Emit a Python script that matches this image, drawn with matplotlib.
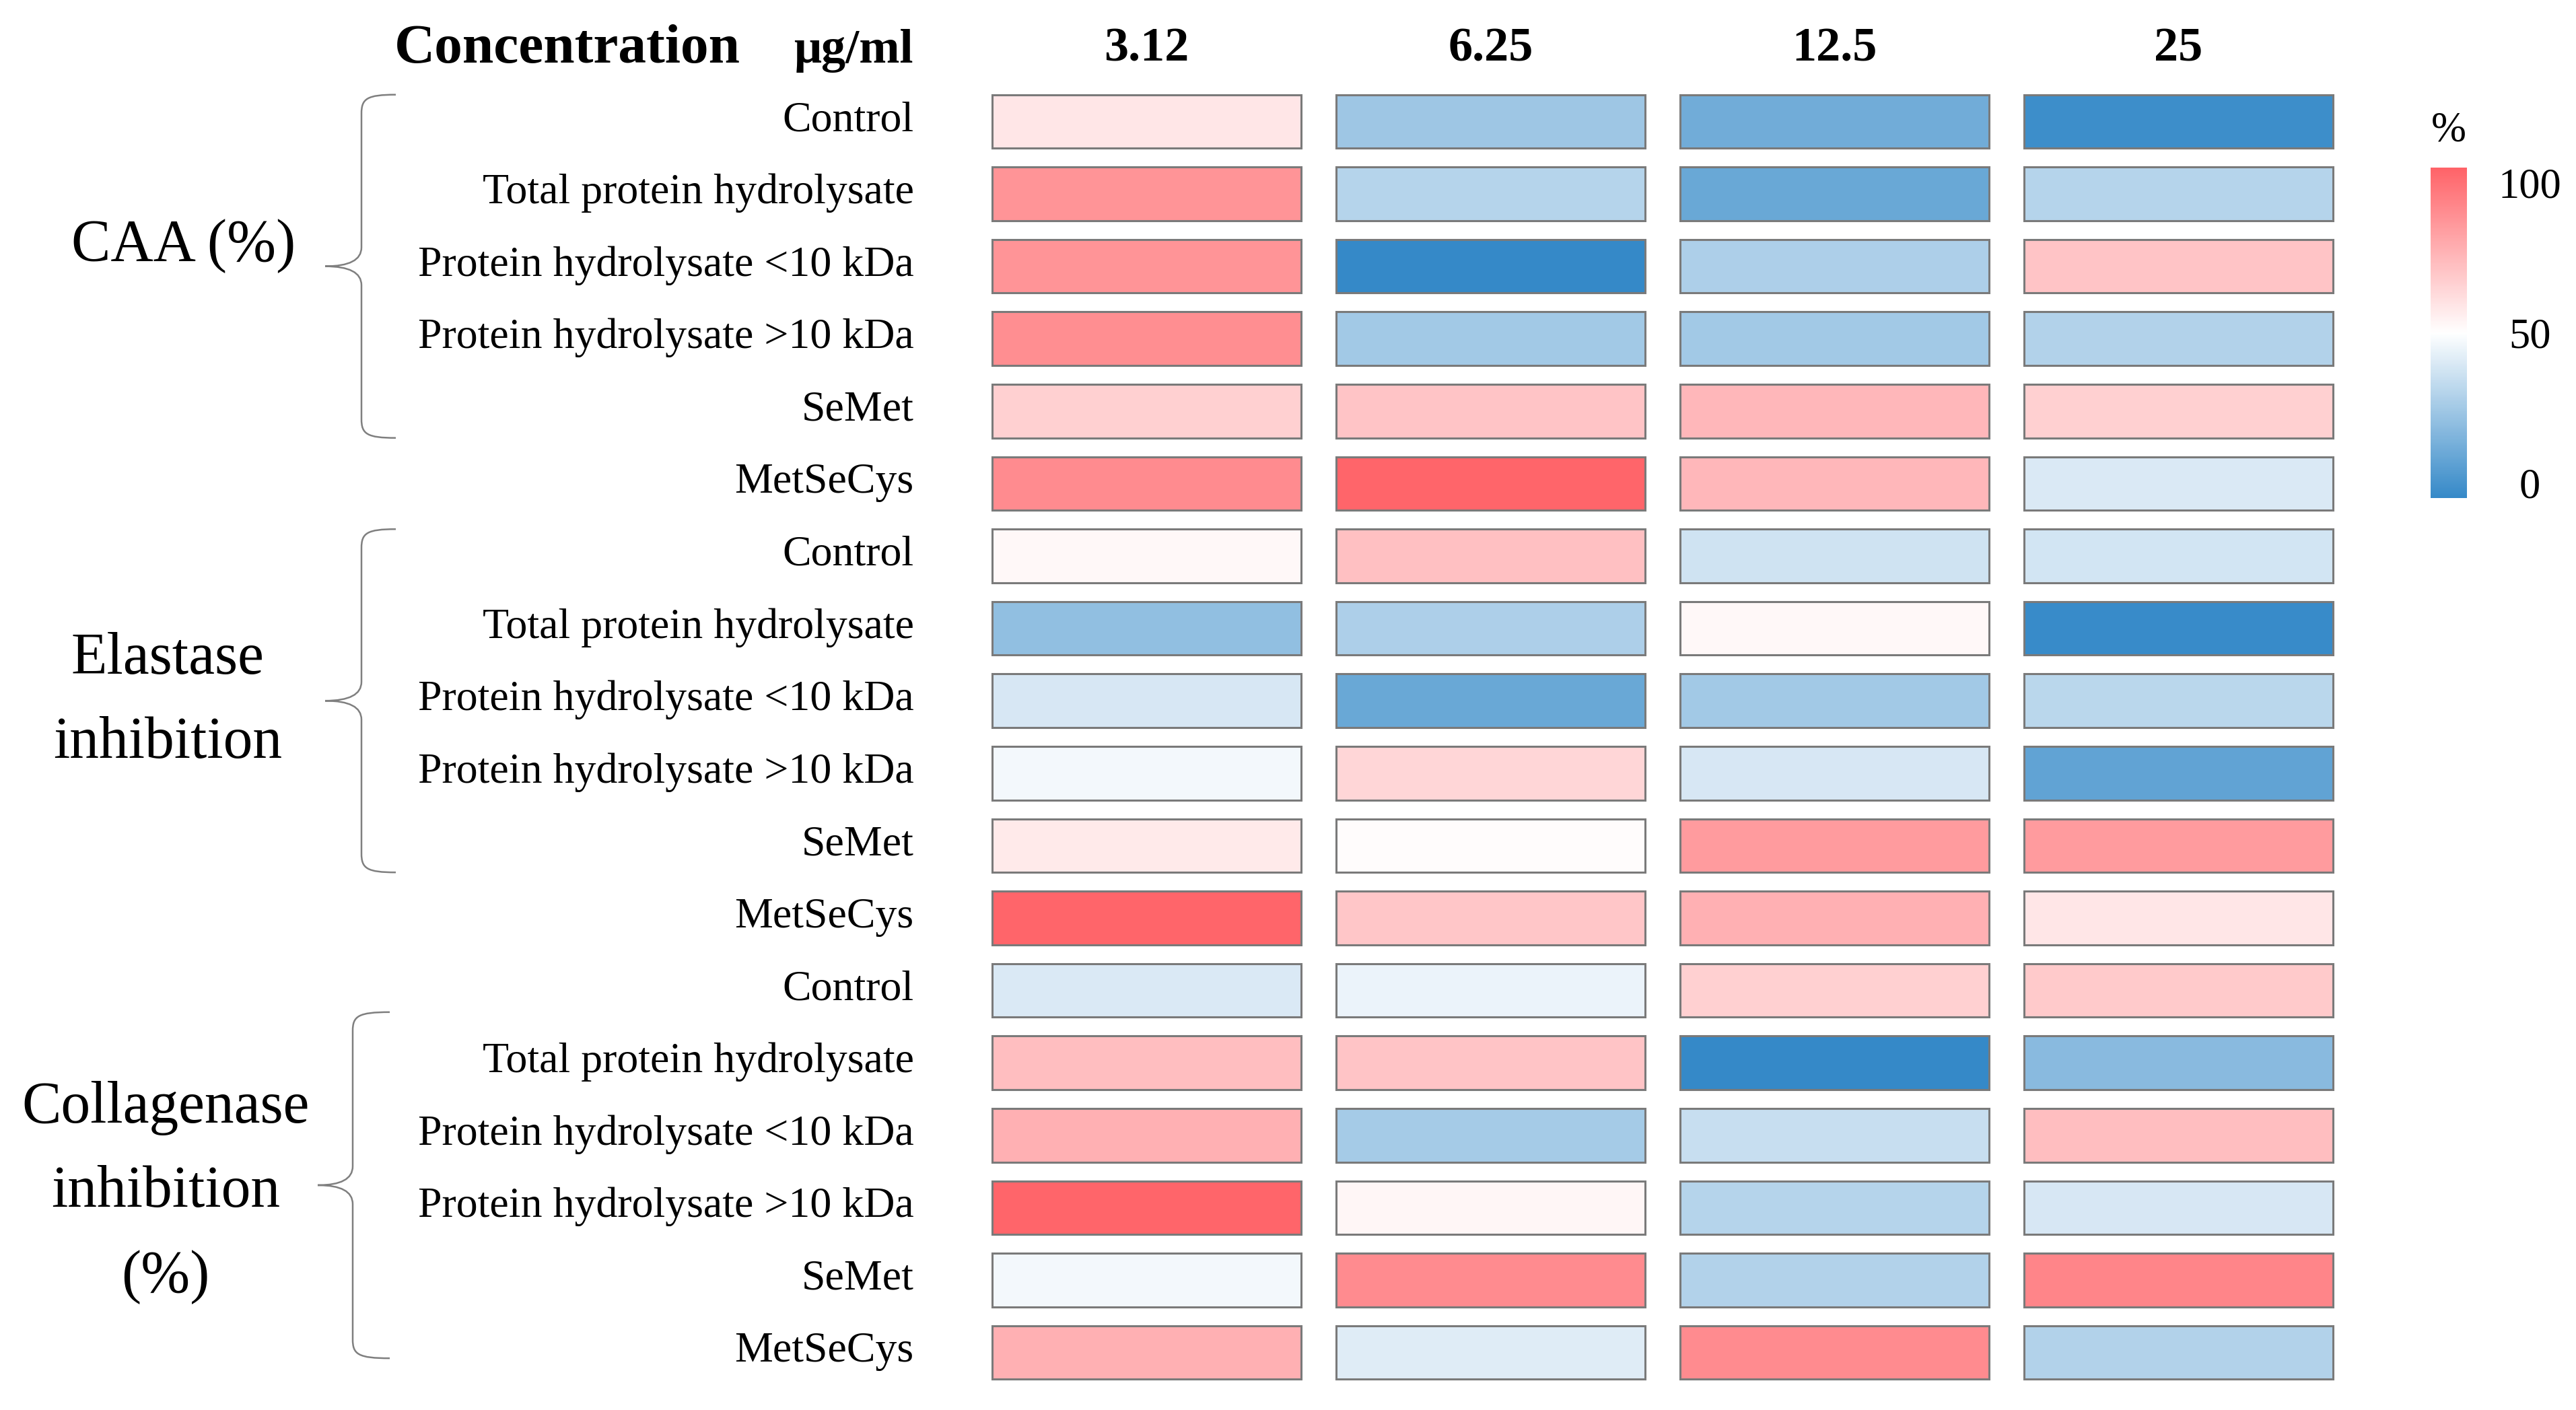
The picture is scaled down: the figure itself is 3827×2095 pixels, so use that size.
import numpy as np
import matplotlib
matplotlib.use('Agg')
import matplotlib.pyplot as plt
import matplotlib.transforms as mtransforms
from matplotlib.colors import LinearSegmentedColormap, Normalize
from matplotlib.patches import Rectangle, PathPatch
from matplotlib.path import Path
from matplotlib.cm import ScalarMappable

plt.rcParams['font.family'] = ['Liberation Serif', 'DejaVu Serif']

# ---------------- data ----------------
concentrations = ['3.12', '6.25', '12.5', '25']
samples = ['Control', 'Total protein hydrolysate', 'Protein hydrolysate <10 kDa',
           'Protein hydrolysate >10 kDa', 'SeMet', 'MetSeCys']
group_labels = ['CAA (%)', 'Elastase\ninhibition', 'Collagenase\ninhibition\n(%)']

caa = [[58, 26, 15, 2],
       [84, 32, 13, 32],
       [84, 0, 30, 69],
       [86, 27, 27, 31],
       [65, 69, 73, 65],
       [87, 99, 73, 41]]
elastase = [[52, 70, 38, 39],
            [23, 30, 52, 1],
            [40, 13, 27, 33],
            [47, 63, 40, 11],
            [57, 51, 82, 82],
            [99, 68, 75, 58]]
collagenase = [[41, 45, 65, 67],
               [71, 69, 0, 21],
               [75, 28, 36, 71],
               [99, 53, 32, 40],
               [47, 87, 31, 89],
               [75, 42, 87, 31]]

values = np.array(caa + elastase + collagenase, dtype=float)
row_labels = samples * 3

# ---------------- figure ----------------
W, H = 3827, 2095
fig = plt.figure(figsize=(W / 100, H / 100), dpi=100)

cmap = LinearSegmentedColormap.from_list('bwr_custom', ['#3589C8', '#FFFFFF', '#FF6368'])
norm = Normalize(0, 100)

ax_l, ax_r, ax_t, ax_b = 1448, 3492, 126.7, 2063.3
ax = fig.add_axes([ax_l / W, (H - ax_b) / H, (ax_r - ax_l) / W, (ax_b - ax_t) / H])
ax.set_xlim(-0.5, len(concentrations) - 0.5)
ax.set_ylim(len(row_labels) - 0.5, -0.5)
for s in ax.spines.values():
    s.set_visible(False)

cw, ch = 0.9, 0.74
for i in range(values.shape[0]):
    for j in range(values.shape[1]):
        ax.add_patch(Rectangle((j - cw / 2, i - ch / 2), cw, ch,
                               facecolor=cmap(norm(values[i, j])),
                               edgecolor='#7A7A7A', linewidth=2.2))

ax.set_yticks(range(len(row_labels)))
ax.set_yticklabels(row_labels, fontsize=46)
ax.tick_params(axis='y', length=0, pad=65)
shift = mtransforms.ScaledTranslation(0, 6 / 72, fig.dpi_scale_trans)
for t in ax.get_yticklabels():
    t.set_transform(t.get_transform() + shift)
ax.xaxis.tick_top()
ax.set_xticks(range(len(concentrations)))
ax.set_xticklabels(concentrations, fontsize=52, fontweight='bold')
ax.tick_params(axis='x', length=0, pad=15)

# header
fig.text(586 / W, (H - 93) / H, 'Concentration', fontsize=60, fontweight='bold',
         ha='left', va='baseline')
fig.text(1179 / W, (H - 93) / H, 'μg/ml', fontsize=52, fontweight='bold',
         ha='left', va='baseline')

# overlay for braces and group labels (pixel coordinates)
ov = fig.add_axes([0, 0, 1, 1], zorder=-1)
ov.set_xlim(0, W)
ov.set_ylim(H, 0)
ov.axis('off')


def row_y(r):
    return H - ax.transData.transform((0, r))[1]


brace_specs = [(-0.37, 4.37, 537, 588, 483),
               (5.63, 10.37, 537, 588, 483),
               (12.30, 17.08, 524, 579, 472)]
label_pos = [(273, 366), (249, 1042), (246, 1772)]
for (r0, r1, xl, xh, xt), lab, (lx, ly) in zip(brace_specs, group_labels, label_pos):
    top, bot = row_y(r0), row_y(r1)
    mid = (top + bot) / 2
    verts = [(xh, top), (xl + 8, top), (xl, top + 6), (xl, top + 28),
             (xl, mid - 28),
             (xl, mid), (xt, mid),
             (xl, mid), (xl, mid + 28),
             (xl, bot - 28),
             (xl, bot - 6), (xl + 8, bot), (xh, bot)]
    codes = [Path.MOVETO, Path.CURVE4, Path.CURVE4, Path.CURVE4,
             Path.LINETO,
             Path.CURVE3, Path.CURVE3,
             Path.CURVE3, Path.CURVE3,
             Path.LINETO,
             Path.CURVE4, Path.CURVE4, Path.CURVE4]
    ov.add_patch(PathPatch(Path(verts, codes), facecolor='none',
                           edgecolor='#7F7F7F', linewidth=1.8))
    ov.text(lx, ly, lab, fontsize=63, ha='center', va='center',
            multialignment='center', linespacing=1.72)

# colorbar
cax = fig.add_axes([3611 / W, (H - 740) / H, 54 / W, 491 / H])
cb = fig.colorbar(ScalarMappable(norm=norm, cmap=cmap), cax=cax, ticks=[0, 50, 100])
cb.outline.set_visible(False)
cb.ax.tick_params(length=0, pad=67, labelsize=45)
cb.ax.set_yticklabels(['0', '50', '100'])
tl = cb.ax.get_yticklabels()
for t in tl:
    t.set_horizontalalignment('center')
tl[0].set_verticalalignment('baseline')
tl[1].set_verticalalignment('center_baseline')
tl[2].set_verticalalignment('top')
fig.text(3638 / W, (H - 195) / H, '%', fontsize=45, ha='center', va='center')

fig.savefig('out.png', dpi=100)
